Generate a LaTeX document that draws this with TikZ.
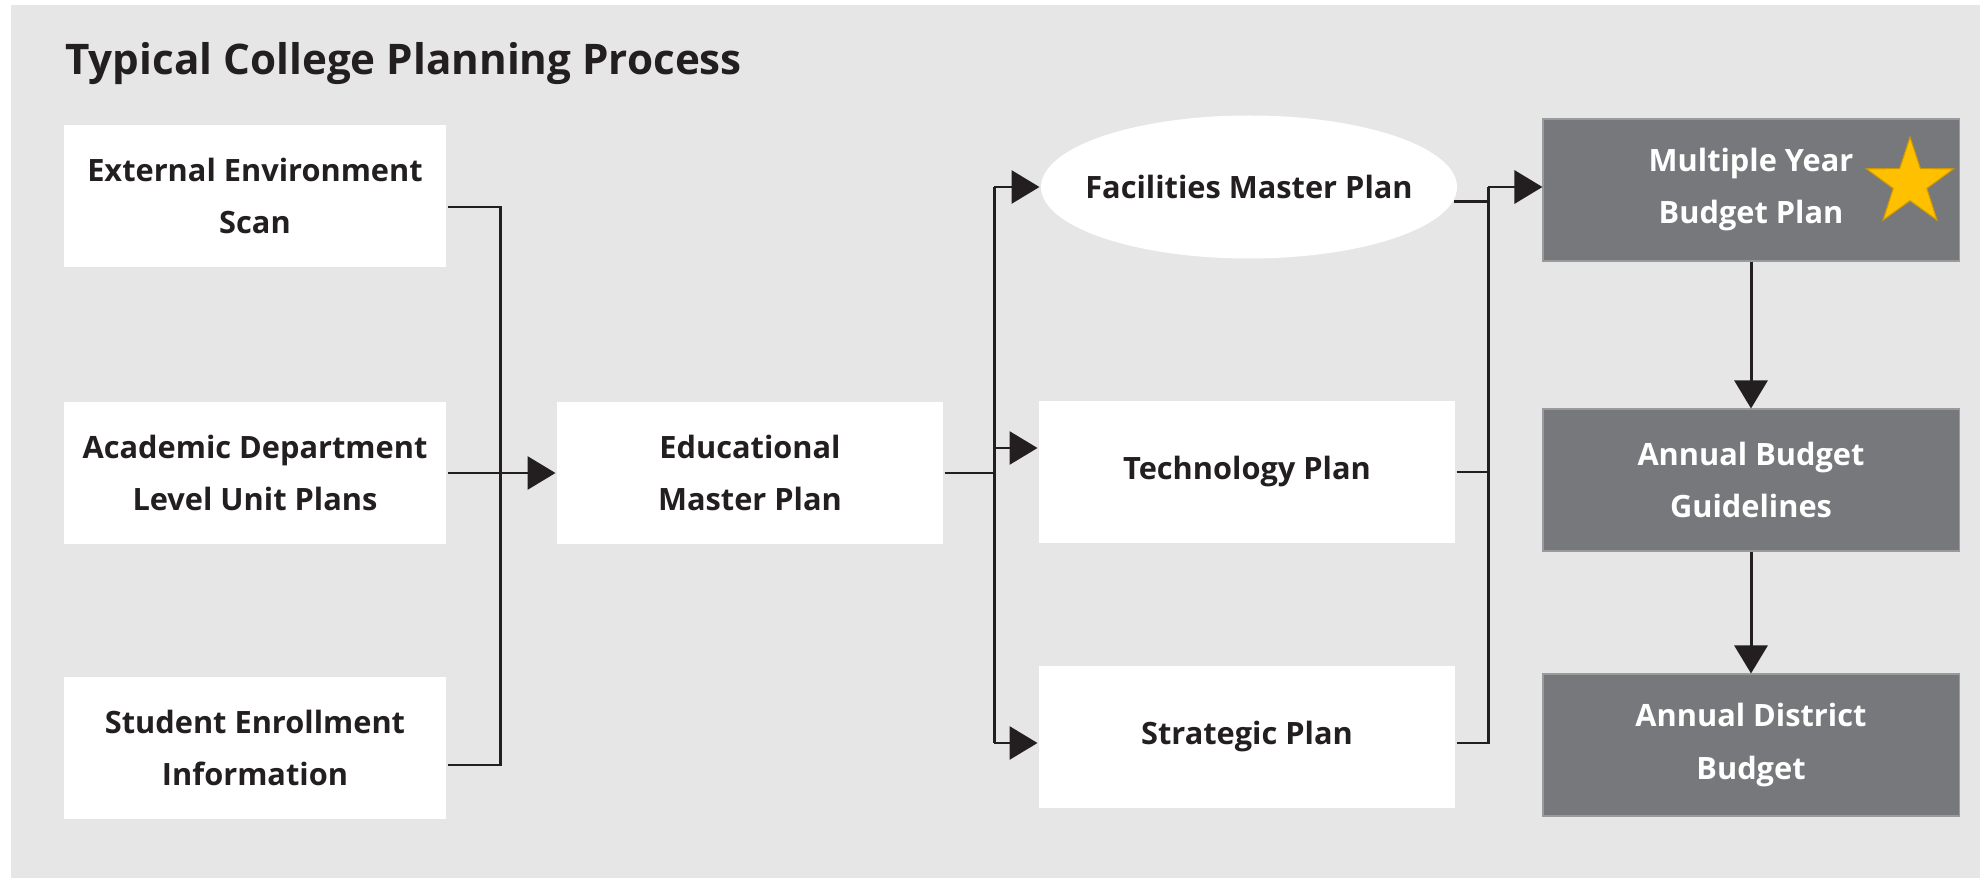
\documentclass[tikz,border=0pt]{standalone}
\usepackage{fontspec}
\setmainfont{Open Sans}
\usetikzlibrary{shapes.geometric,arrows.meta}
\definecolor{panel}{HTML}{E6E6E6}
\definecolor{slate}{HTML}{77787B}
\definecolor{ink}{HTML}{231F20}
\definecolor{gold}{HTML}{FFC000}
\newcommand\planfont{\fontsize{17.5}{29.6}\selectfont\bfseries}
\begin{document}
\begin{tikzpicture}[x=0.2mm, y=-0.2mm, line width=1.7pt, draw=ink,
  plan/.style={fill=white, text=ink, inner sep=0pt, minimum width=76.4mm, minimum height=28.4mm, align=center, font=\planfont},
  wideplan/.style={plan, minimum width=83.2mm},
  budget/.style={wideplan, fill=slate, draw=slate!75!white, line width=0.6pt, text=white},
  arr/.style={-{Triangle[length=5.6mm,width=6.6mm]}}]
\useasboundingbox (0,0) rectangle (1980,879);
\fill[panel] (11,5) rectangle (1980,878);
\node[anchor=base west, text=ink, font=\fontsize{24}{28}\selectfont\bfseries] (title) at (58,75) {Typical College Planning Process};
\node[plan] (ext) at (255,196) {External Environment\\Scan};
\node[plan] (acad) at (255,473) {Academic Department\\Level Unit Plans};
\node[plan] (stud) at (255,748) {Student Enrollment\\Information};
\node[plan, minimum width=77.2mm] (edu) at (750,473) {Educational\\Master Plan};
\node[wideplan, ellipse, minimum height=28.6mm] (fac) at (1249,187) {\makebox[0pt]{Facilities Master Plan}};
\node[wideplan] (tech) at (1247,472) {Technology Plan};
\node[wideplan] (strat) at (1247,737) {Strategic Plan};
\node[budget] (multi) at (1751,190) {Multiple Year\\Budget Plan};
\node[budget] (guide) at (1751,480) {Annual Budget\\Guidelines};
\node[budget] (dist) at (1751,745) {Annual District\\Budget};
\node[star, star points=5, star point ratio=2.6, minimum size=18.4mm, inner sep=0pt, fill=gold, draw=gold!80!black, line width=0.6pt] (goldstar) at (1910,183) {};
\coordinate (b1t) at (500,207);
\coordinate (b1b) at (500,765);
\coordinate (b2t) at (994,187);
\coordinate (b2m) at (994,448);
\coordinate (b2b) at (994,743);
\coordinate (b3t) at (1488,187);
\coordinate (b3b) at (1488,743);
\draw (ext.east |- b1t) -- (b1t) -- (b1b) -- (stud.east |- b1b);
\draw[arr] (acad.east) -- (edu.west);
\draw (edu.east) -- (edu.east -| b2t);
\draw (b2t) -- (b2b);
\draw[arr] (b2t) -- (fac.west);
\draw[arr] (b2m) -- (b2m -| tech.west);
\draw[arr] (b2b) -- (b2b -| strat.west);
\draw (fac.-4) -- (fac.-4 -| b3t);
\draw (tech.east) -- (tech.east -| b3t);
\draw (strat.east |- b3b) -- (b3b) -- (b3t);
\draw[arr] (b3t) -- (multi.west |- b3t);
\draw[arr] (multi.south) -- (guide.north);
\draw[arr] (guide.south) -- (dist.north);
\end{tikzpicture}
\end{document}
